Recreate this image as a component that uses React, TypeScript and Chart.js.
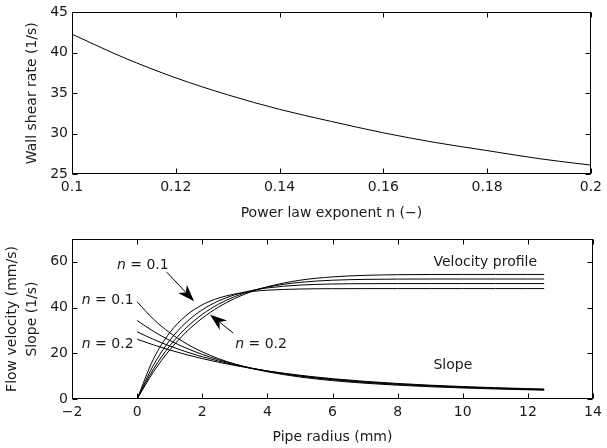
import React, { useEffect, useRef } from "react";
import { Chart, registerables } from "chart.js";
Chart.register(...registerables);

// ---------- Top panel data ----------
const exponentN = [0.1, 0.11, 0.12, 0.13, 0.14, 0.15, 0.16, 0.17, 0.18, 0.19, 0.2];
const wallShearRate = [42.3, 39.4, 36.9, 34.8, 33.0, 31.5, 30.1, 28.9, 27.9, 26.9, 26.1];
const topXTicks = [0.1, 0.12, 0.14, 0.16, 0.18, 0.2];
const topXTickLabels = ["0.1", "0.12", "0.14", "0.16", "0.18", "0.2"];
const topYTicks = [25, 30, 35, 40, 45];

// ---------- Bottom panel data ----------
const radius = [0, 0.5, 1, 1.5, 2, 2.5, 3, 3.5, 4, 5, 6, 7, 8, 9, 10, 11, 12, 12.5];
const velN010 = [0, 17.47, 29.0, 36.46, 41.21, 44.15, 45.94, 47.0, 47.61, 48.12, 48.26, 48.29, 48.3, 48.3, 48.3, 48.3, 48.3, 48.3];
const velN013 = [0, 14.8, 25.64, 33.46, 39.03, 42.92, 45.6, 47.41, 48.6, 49.84, 50.31, 50.45, 50.49, 50.5, 50.5, 50.5, 50.5, 50.5];
const velN017 = [0, 13.05, 23.21, 31.04, 37.01, 41.49, 44.81, 47.23, 48.97, 51.03, 51.96, 52.33, 52.46, 52.49, 52.5, 52.5, 52.5, 52.5];
const velN020 = [0, 11.84, 21.45, 29.19, 35.36, 40.21, 44.0, 46.91, 49.11, 51.96, 53.42, 54.1, 54.38, 54.47, 54.5, 54.5, 54.5, 54.5];
const slopeN010 = [42.5, 34.94, 29.0, 24.31, 20.61, 17.66, 15.31, 13.43, 11.9, 9.62, 8.04, 6.9, 6.04, 5.37, 4.83, 4.39, 4.03, 3.86];
const slopeN013 = [34.34, 29.6, 25.64, 22.31, 19.52, 17.17, 15.2, 13.55, 12.15, 9.97, 8.39, 7.21, 6.31, 5.61, 5.05, 4.59, 4.21, 4.04];
const slopeN017 = [29.4, 26.1, 23.21, 20.69, 18.51, 16.6, 14.94, 13.49, 12.24, 10.21, 8.66, 7.48, 6.56, 5.83, 5.25, 4.77, 4.38, 4.2];
const slopeN020 = [26.16, 23.68, 21.45, 19.46, 17.68, 16.08, 14.67, 13.4, 12.28, 10.39, 8.9, 7.73, 6.8, 6.05, 5.45, 4.95, 4.54, 4.36];
const bottomXTicks = [-2, 0, 2, 4, 6, 8, 10, 12, 14];
const bottomYTicks = [0, 20, 40, 60];

// annotations (data units)
const annoTexts = [
  { italic: "n", rest: " = 0.1", r: -0.62, v: 58.6 },
  { italic: "n", rest: " = 0.1", r: -1.7, v: 43.3 },
  { italic: "n", rest: " = 0.2", r: -1.7, v: 23.8 },
  { italic: "n", rest: " = 0.2", r: 3.01, v: 23.8 },
  { italic: "", rest: "Velocity profile", r: 9.1, v: 59.8 },
  { italic: "", rest: "Slope", r: 9.1, v: 14.8 },
];
const arrows = [
  { fromR: 0.91, fromV: 55.5, toR: 1.75, toV: 42.8 },
  { fromR: 2.95, fromV: 28.9, toR: 2.24, toV: 36.9 },
];

const FONT = "'DejaVu Sans', sans-serif";
const TXT = "#1a1a1a";

const framePlugin = {
  id: "frameTicks",
  afterDraw(chart: any) {
    const { ctx, chartArea, scales } = chart;
    const l = Math.round(chartArea.left) + 0.5;
    const r = Math.round(chartArea.right) - 0.5;
    const t = Math.round(chartArea.top) + 0.5;
    const b = Math.round(chartArea.bottom) - 0.5;
    ctx.save();
    ctx.strokeStyle = "#000";
    ctx.lineWidth = 1;
    ctx.strokeRect(l, t, r - l, b - t);
    const len = 5;
    ctx.beginPath();
    scales.x.ticks.forEach((tk: any) => {
      const px = Math.round(scales.x.getPixelForValue(tk.value)) + 0.5;
      ctx.moveTo(px, b);
      ctx.lineTo(px, b - len);
      ctx.moveTo(px, t);
      ctx.lineTo(px, t + len);
    });
    scales.y.ticks.forEach((tk: any) => {
      const py = Math.round(scales.y.getPixelForValue(tk.value)) + 0.5;
      ctx.moveTo(l, py);
      ctx.lineTo(l + len, py);
      ctx.moveTo(r, py);
      ctx.lineTo(r - len, py);
    });
    ctx.stroke();
    ctx.restore();
  },
};

const annoPlugin = {
  id: "annos",
  afterDraw(chart: any) {
    const { ctx, scales } = chart;
    ctx.save();
    ctx.fillStyle = TXT;
    ctx.textBaseline = "middle";
    ctx.textAlign = "left";
    annoTexts.forEach((a) => {
      let x = scales.x.getPixelForValue(a.r);
      const y = scales.y.getPixelForValue(a.v);
      if (a.italic) {
        ctx.font = `italic 14px ${FONT}`;
        ctx.fillText(a.italic, x, y);
        x += ctx.measureText(a.italic).width;
      }
      ctx.font = `14px ${FONT}`;
      ctx.fillText(a.rest, x, y);
    });
    ctx.strokeStyle = "#000";
    ctx.fillStyle = "#000";
    ctx.lineWidth = 1;
    arrows.forEach((a) => {
      const x0 = scales.x.getPixelForValue(a.fromR);
      const y0 = scales.y.getPixelForValue(a.fromV);
      const x1 = scales.x.getPixelForValue(a.toR);
      const y1 = scales.y.getPixelForValue(a.toV);
      const dx = x1 - x0, dy = y1 - y0;
      const d = Math.hypot(dx, dy);
      const ux = dx / d, uy = dy / d;
      const nx = -uy, ny = ux;
      const L = 17, W = 6, N = 5;
      const bx = x1 - ux * L, by = y1 - uy * L;
      const mx = x1 - ux * (L - N), my = y1 - uy * (L - N);
      ctx.beginPath();
      ctx.moveTo(x0, y0);
      ctx.lineTo(mx, my);
      ctx.stroke();
      ctx.beginPath();
      ctx.moveTo(x1, y1);
      ctx.lineTo(bx + nx * W, by + ny * W);
      ctx.lineTo(mx, my);
      ctx.lineTo(bx - nx * W, by - ny * W);
      ctx.closePath();
      ctx.fill();
    });
    ctx.restore();
  },
};

function lineDs(xs: number[], ys: number[]) {
  return {
    data: xs.map((x, i) => ({ x, y: ys[i] })),
    borderColor: "#000",
    borderWidth: 1,
    pointRadius: 0,
    cubicInterpolationMode: "monotone" as const,
    fill: false,
  };
}

function axisBase(fontSize = 14) {
  return {
    grid: { display: false, drawTicks: false },
    border: { display: false },
    ticks: { font: { family: FONT, size: fontSize }, color: TXT, autoSkip: false, maxRotation: 0, padding: 5 },
  };
}

function TopChart() {
  const ref = useRef<HTMLCanvasElement>(null);
  useEffect(() => {
    const chart = new Chart(ref.current!, {
      type: "line",
      data: { datasets: [lineDs(exponentN, wallShearRate)] as any },
      options: {
        responsive: false,
        animation: false,
        layout: { padding: { left: 0, right: 14, top: 12, bottom: 0 } },
        plugins: { legend: { display: false }, tooltip: { enabled: false } },
        scales: {
          x: {
            type: "linear",
            min: 0.1,
            max: 0.2,
            ...axisBase(),
            ticks: { ...axisBase().ticks, callback: (_v: any, i: number) => topXTickLabels[i] },
            afterBuildTicks: (s: any) => { s.ticks = topXTicks.map((v) => ({ value: v })); },
            afterFit: (s: any) => { s.height = 51; },
            title: { display: true, text: "Power law exponent n (\u2212)", font: { family: FONT, size: 14 }, color: TXT, padding: { top: 0, bottom: 3 } },
          },
          y: {
            type: "linear",
            min: 25,
            max: 45,
            ...axisBase(),
            ticks: { ...axisBase().ticks, padding: 4 },
            afterBuildTicks: (s: any) => { s.ticks = topYTicks.map((v) => ({ value: v })); },
            afterFit: (s: any) => { s.width = 72; },
            title: { display: true, text: "Wall shear rate (1/s)", font: { family: FONT, size: 14 }, color: TXT, padding: { top: 24, bottom: 0 } },
          },
        },
      } as any,
      plugins: [framePlugin],
    });
    return () => chart.destroy();
  }, []);
  return <canvas ref={ref} width={607} height={225} style={{ display: "block" }} />;
}

function BottomChart() {
  const ref = useRef<HTMLCanvasElement>(null);
  useEffect(() => {
    const chart = new Chart(ref.current!, {
      type: "line",
      data: {
        datasets: [
          lineDs(radius, velN010),
          lineDs(radius, velN013),
          lineDs(radius, velN017),
          lineDs(radius, velN020),
          lineDs(radius, slopeN010),
          lineDs(radius, slopeN013),
          lineDs(radius, slopeN017),
          lineDs(radius, slopeN020),
        ] as any,
      },
      options: {
        responsive: false,
        animation: false,
        layout: { padding: { left: 0, right: 14, top: 14, bottom: 0 } },
        plugins: { legend: { display: false }, tooltip: { enabled: false } },
        scales: {
          x: {
            type: "linear",
            min: -2,
            max: 14,
            ...axisBase(),
            ticks: { ...axisBase().ticks, callback: (v: any) => (v < 0 ? "\u2212" + Math.abs(v) : String(v)) },
            afterBuildTicks: (s: any) => { s.ticks = bottomXTicks.map((v) => ({ value: v })); },
            afterFit: (s: any) => { s.height = 49; },
            title: { display: true, text: "Pipe radius (mm)", font: { family: FONT, size: 14 }, color: TXT, padding: { top: 0, bottom: 2 } },
          },
          y: {
            type: "linear",
            min: 0,
            max: 70,
            ...axisBase(),
            ticks: { ...axisBase().ticks, padding: 4 },
            afterBuildTicks: (s: any) => { s.ticks = bottomYTicks.map((v) => ({ value: v })); },
            afterFit: (s: any) => { s.width = 72; },
            title: {
              display: true,
              text: ["Flow velocity (mm/s)", "Slope (1/s)"],
              font: { family: FONT, size: 14, lineHeight: 1.45 },
              color: TXT,
              padding: { top: 2, bottom: 0 },
            },
          },
        },
      } as any,
      plugins: [framePlugin, annoPlugin],
    });
    return () => chart.destroy();
  }, []);
  return <canvas ref={ref} width={607} height={223} style={{ display: "block" }} />;
}

export default function App() {
  return (
    <div style={{ position: "absolute", left: 0, top: 0, width: 607, height: 448, background: "#fff" }}>
      <TopChart />
      <BottomChart />
    </div>
  );
}
